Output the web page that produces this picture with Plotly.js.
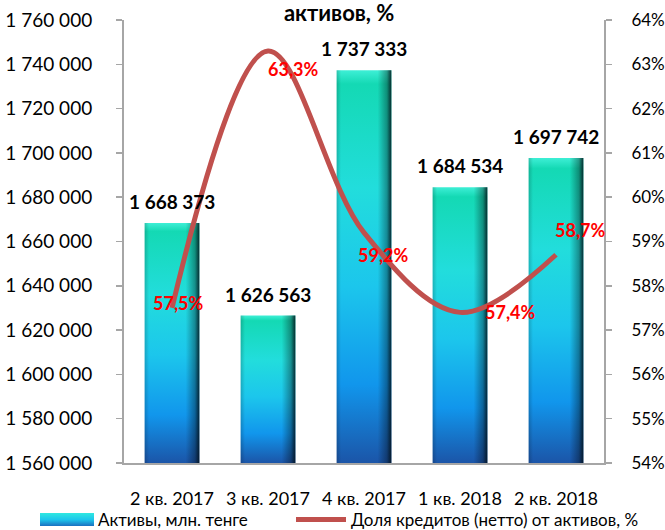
<!DOCTYPE html>
<html>
<head>
<meta charset="utf-8">
<script src="https://cdn.plot.ly/plotly-3.0.1.min.js"></script>
<style>html,body{margin:0;padding:0;background:#fff;}#chart{width:665px;height:530px;}</style>
</head>
<body>
<div id="chart"></div>
<script>
const categories = ['2 кв. 2017', '3 кв. 2017', '4 кв. 2017', '1 кв. 2018', '2 кв. 2018'];
const assets = [1668373, 1626563, 1737333, 1684534, 1697742];
const loanShare = [57.5, 63.3, 59.2, 57.4, 58.7];
const seriesNames = ['Активы, млн. тенге', 'Доля кредитов (нетто) от активов, %'];
const titleText = 'активов, %';

// label offsets (style only, px)
const lineLabelShift = [[6, 5], [25, -18], [19, -22], [50, 0], [24, 25]];

const FONT = 'Lato, "Open Sans", sans-serif';
function fmtInt(n) { return String(n).replace(/\B(?=(\d{3})+(?!\d))/g, ' '); }
function fmtPct(v) { return v.toFixed(1).replace('.', ',') + '%'; }

const traces = [
  {
    type: 'bar', x: categories, y: assets, name: seriesNames[0], legend: 'legend',
    marker: {color: '#1EC8E4', line: {width: 0}},
    hoverinfo: 'skip'
  },
  {
    type: 'scatter', mode: 'lines', x: categories, y: loanShare, yaxis: 'y2',
    name: seriesNames[1], legend: 'legend2',
    line: {color: '#C0504D', width: 5, shape: 'spline', smoothing: 1},
    hoverinfo: 'skip'
  }
];

const annotations = [];
assets.forEach((v, i) => annotations.push({
  x: categories[i], y: v, xref: 'x', yref: 'y', text: '<b>' + fmtInt(v) + '</b>',
  showarrow: false, yanchor: 'bottom', yshift: 8,
  font: {family: FONT, size: 19, color: '#000'}
}));
loanShare.forEach((v, i) => annotations.push({
  x: categories[i], y: v, xref: 'x', yref: 'y2', text: '<b>' + fmtPct(v) + '</b>',
  showarrow: false, xshift: lineLabelShift[i][0], yshift: lineLabelShift[i][1],
  font: {family: FONT, size: 18, color: '#FF0000'}
}));

const legendBase = {orientation: 'h', xref: 'container', yref: 'container', y: 10 / 530,
  xanchor: 'left', yanchor: 'middle', font: {family: FONT, size: 17, color: '#000'},
  itemwidth: 50, borderwidth: 0, bgcolor: 'rgba(0,0,0,0)'};

const layout = {
  width: 665, height: 530,
  margin: {l: 124, r: 61, t: 20, b: 67},
  paper_bgcolor: '#fff', plot_bgcolor: '#fff',
  separators: ', ',
  font: {family: FONT, size: 18, color: '#000'},
  title: {text: '<b>' + titleText + '</b>', x: 0.51, xanchor: 'center', y: 0.975, yanchor: 'middle',
          font: {family: FONT, size: 22, color: '#000'}},
  bargap: 0.43,
  showlegend: true,
  legend: Object.assign({}, legendBase, {x: 38 / 665}),
  legend2: Object.assign({}, legendBase, {x: 291 / 665}),
  xaxis: {type: 'category', range: [-0.5, 4.5], showgrid: false, zeroline: false,
          showline: true, linecolor: '#A6A6A6', linewidth: 2, ticks: '',
          ticklabelstandoff: 18, tickfont: {family: FONT, size: 18, color: '#000'}, fixedrange: true},
  yaxis: {range: [1560000, 1760000], dtick: 20000, tick0: 1560000, tickformat: ',d',
          showgrid: false, zeroline: false, showline: true, linecolor: '#A6A6A6', linewidth: 2,
          ticks: 'outside', ticklen: 6, tickcolor: '#A6A6A6', tickwidth: 1.5, ticklabelstandoff: 20,
          tickfont: {family: FONT, size: 19, color: '#000'}, fixedrange: true},
  yaxis2: {overlaying: 'y', side: 'right', range: [54, 64], dtick: 1, tick0: 54, ticksuffix: '%',
           showgrid: false, zeroline: false, showline: true, linecolor: '#A6A6A6', linewidth: 2,
           ticks: 'outside', ticklen: 6, tickcolor: '#A6A6A6', tickwidth: 1.5, ticklabelstandoff: 16,
           tickfont: {family: FONT, size: 17, color: '#000'}, fixedrange: true},
  annotations: annotations
};

function mkGrad(doc, id, x2, y2, stops) {
  const ns = 'http://www.w3.org/2000/svg';
  const g = doc.createElementNS(ns, 'linearGradient');
  g.setAttribute('id', id);
  g.setAttribute('x1', '0'); g.setAttribute('y1', '0');
  g.setAttribute('x2', x2); g.setAttribute('y2', y2);
  stops.forEach(s => {
    const st = doc.createElementNS(ns, 'stop');
    st.setAttribute('offset', s[0]);
    st.setAttribute('stop-color', s[1]);
    st.setAttribute('stop-opacity', s[2] === undefined ? 1 : s[2]);
    g.appendChild(st);
  });
  return g;
}

function styleBars(gd) {
  const svg = gd.querySelector('.main-svg');
  let defs = svg.querySelector('defs');
  if (!defs) { defs = document.createElementNS('http://www.w3.org/2000/svg', 'defs'); svg.insertBefore(defs, svg.firstChild); }
  defs.appendChild(mkGrad(document, 'barGradV', '0', '1', [
    ['0', '#3EEFD6'], ['0.035', '#14D9B4'], ['0.3', '#22DDDC'], ['0.55', '#1CC6EC'],
    ['0.8', '#1196EC'], ['1', '#1B55A8']]));
  defs.appendChild(mkGrad(document, 'barGradH', '1', '0', [
    ['0', '#000', 0.18], ['0.08', '#000', 0], ['0.75', '#000', 0], ['0.92', '#000', 0.35], ['1', '#001018', 0.85]]));
  defs.appendChild(mkGrad(document, 'barGradL', '0', '1', [
    ['0', '#2FE8E0'], ['0.5', '#1CC6EC'], ['1', '#1A6FC0']]));
  const plotH = gd._fullLayout._size.h;
  gd.querySelectorAll('.barlayer .point path').forEach(p => {
    // restrict the bar outline to the visible plot area so the gradient spans the visible bar
    const bb = p.getBBox();
    const top = bb.y, x0 = bb.x, w = bb.width;
    p.setAttribute('d', 'M' + x0 + ',' + plotH + 'V' + top + 'H' + (x0 + w) + 'V' + plotH + 'Z');
    p.style.fill = 'url(#barGradV)';
    const c = p.cloneNode(true);
    c.style.fill = 'url(#barGradH)';
    c.style.pointerEvents = 'none';
    p.parentNode.insertBefore(c, p.nextSibling);
  });
  const lp = gd.querySelector('.legend .traces .legendpoints path');
  if (lp) {
    lp.setAttribute('d', 'M-28,-6.5h54v13h-54Z');
    lp.style.fill = 'url(#barGradL)';
    lp.style.stroke = 'none';
  }
  const legs = gd.querySelectorAll('.legend');
  if (legs.length > 1) {
    const ll = legs[1].querySelector('.legendpoints path.js-line');
    if (ll) { ll.setAttribute('d', 'M3,0h53'); ll.style.strokeWidth = '3px'; }
  }
}

Plotly.newPlot('chart', traces, layout, {staticPlot: true, displayModeBar: false}).then(styleBars);
</script>
</body>
</html>
